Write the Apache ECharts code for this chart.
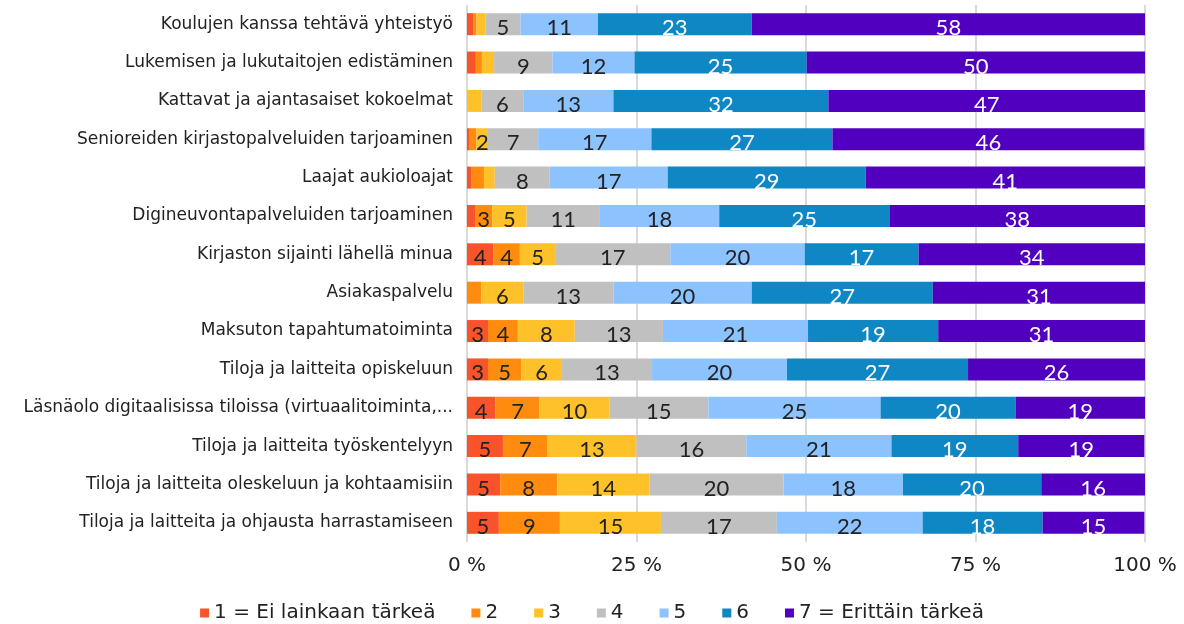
<!DOCTYPE html>
<html>
<head>
<meta charset="utf-8">
<script src="https://cdn.jsdelivr.net/npm/echarts@6/dist/echarts.min.js"></script>
<style>
html,body{margin:0;padding:0;background:#fff;}
#chart{width:1184px;height:624px;}
</style>
</head>
<body>
<div id="chart"></div>
<script>
// kategoriat ylhäältä alas
var categories = [
	'Koulujen kanssa tehtävä yhteistyö',
	'Lukemisen ja lukutaitojen edistäminen',
	'Kattavat ja ajantasaiset kokoelmat',
	'Senioreiden kirjastopalveluiden tarjoaminen',
	'Laajat aukioloajat',
	'Digineuvontapalveluiden tarjoaminen',
	'Kirjaston sijainti lähellä minua',
	'Asiakaspalvelu',
	'Maksuton tapahtumatoiminta',
	'Tiloja ja laitteita opiskeluun',
	'Läsnäolo digitaalisissa tiloissa (virtuaalitoiminta,...',
	'Tiloja ja laitteita työskentelyyn',
	'Tiloja ja laitteita oleskeluun ja kohtaamisiin',
	'Tiloja ja laitteita ja ohjausta harrastamiseen'
];

var seriesNames = ['1 = Ei lainkaan tärkeä', '2', '3', '4', '5', '6', '7 = Erittäin tärkeä'];

var v1 = [0.9, 1.3, 0, 0.4, 0.6, 1.2, 3.9, 0, 3.1, 3.1, 4.2, 5.3, 4.9, 4.7];
var v2 = [0.5, 0.9, 0, 1.0, 1.9, 2.5, 3.9, 2.1, 4.4, 4.9, 6.5, 6.6, 8.4, 9.0];
var v3 = [1.3, 1.8, 2.1, 1.7, 1.6, 5.1, 5.2, 6.2, 8.4, 6.0, 10.3, 13.1, 13.6, 14.9];
var v4 = [5.2, 8.6, 6.2, 7.4, 8.1, 10.8, 17.0, 13.3, 13.0, 13.3, 14.6, 16.2, 19.8, 17.1];
var v5 = [11.4, 12.1, 13.3, 16.7, 17.4, 17.6, 19.8, 20.4, 21.4, 19.9, 25.4, 21.4, 17.6, 21.5];
var v6 = [22.7, 25.4, 31.7, 26.7, 29.2, 25.1, 16.8, 26.7, 19.2, 26.7, 19.9, 18.7, 20.4, 17.7];
var v7 = [58.1, 50.0, 46.8, 46.0, 41.2, 37.8, 33.5, 31.4, 30.5, 26.1, 19.2, 18.6, 15.5, 15.0];

var values = [v1, v2, v3, v4, v5, v6, v7];

// [rivi, sarja] joiden arvo näytetään vaikka pala on kapea
var forcedLabels = [[3, 2]];

var COLORS = ['#F9532B', '#FF8B0F', '#FFC12A', '#C0C0C0', '#8CC3FF', '#0E87C4', '#5200BF'];
var LABEL_COLORS = ['#222', '#222', '#222', '#222', '#222', '#fff', '#fff'];

function isForced(row, s){
	for (var i = 0; i < forcedLabels.length; i++){
		if (forcedLabels[i][0] == row && forcedLabels[i][1] == s) return true;
	}
	return false;
}

var series = [];
for (var s = 0; s < values.length; s++){
	var data = [];
	for (var r = 0; r < values[s].length; r++){
		var v = values[s][r];
		var show = v >= 2.4 || isForced(r, s);
		data.push({value: v, label: {show: show}});
	}
	series.push({
		name: seriesNames[s],
		type: 'bar',
		stack: 'total',
		barWidth: 22,
		itemStyle: {color: COLORS[s]},
		label: {
			show: true,
			position: 'inside',
			offset: [0, 4],
			color: LABEL_COLORS[s],
			fontFamily: 'Lato',
			fontSize: 22,
			formatter: function(p){ return Math.round(p.value); }
		},
		emphasis: {disabled: true},
		data: data
	});
}

var myChart = echarts.init(document.getElementById('chart'));
myChart.setOption({
	animation: false,
	color: COLORS,
	grid: {
		left: 467,
		right: 39,
		top: 5,
		bottom: 82
	},
	legend: {
		top: 598,
		left: 'center',
		itemWidth: 9,
		itemHeight: 9,
		itemGap: 36,
		icon: 'rect',
		textStyle: {
			color: '#222',
			fontFamily: 'DejaVu Sans',
			fontSize: 20
		},
		data: seriesNames
	},
	xAxis: {
		type: 'value',
		min: 0,
		max: 100,
		interval: 25,
		axisLine: {show: false},
		axisTick: {show: false},
		splitLine: {lineStyle: {color: '#DADADA', width: 2}},
		axisLabel: {
			color: '#222',
			fontFamily: 'DejaVu Sans',
			fontSize: 20,
			margin: 14,
			formatter: '{value} %'
		}
	},
	yAxis: {
		type: 'category',
		inverse: true,
		data: categories,
		axisLine: {show: false},
		axisTick: {show: false},
		axisLabel: {
			color: '#222',
			fontFamily: 'DejaVu Sans',
			fontSize: 17,
			margin: 14
		}
	},
	series: series
});
</script>
</body>
</html>
